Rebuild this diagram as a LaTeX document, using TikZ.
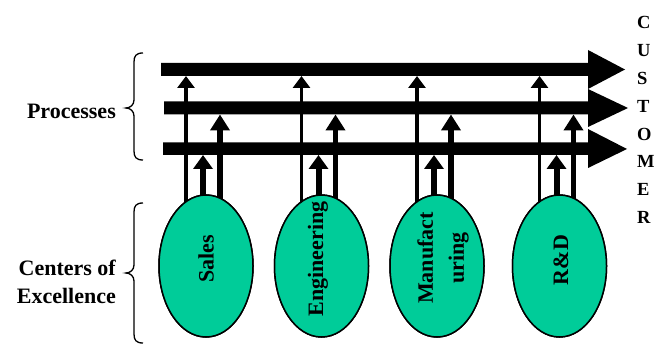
\documentclass[tikz,border=0pt]{standalone}
\usepackage{fontspec}
\setmainfont{Liberation Serif}
\usetikzlibrary{arrows.meta,shapes.geometric,calc}
\definecolor{cellgreen}{RGB}{0,204,153}
\begin{document}
\begin{tikzpicture}[x=1pt,y=-1pt,
  cell/.style={ellipse,draw=black,line width=1.5pt,fill=cellgreen,minimum width=94pt,minimum height=142pt,inner sep=0pt},
  celltext/.style={rotate=90,font=\bfseries\fontsize{22}{31}\selectfont,align=center,inner sep=0pt},
  lbl/.style={font=\bfseries\fontsize{22}{28}\selectfont,inner sep=0pt},
  upA/.style={line width=3.5pt,-{Triangle[width=17pt,length=12pt]}},
  upB/.style={line width=6pt,-{Triangle[width=19pt,length=14pt]}},
  upC/.style={line width=5.5pt,-{Triangle[width=19pt,length=16pt]}},
  barshape/.style={fill=black},
  bracepath/.style={line width=1.3pt}]
\useasboundingbox (0,0) rectangle (655,344);
\clip (0,0) rectangle (655,344);

% bar bottoms
\coordinate (bar1) at (0,76);
\coordinate (bar2) at (0,114.5);
\coordinate (bar3) at (0,155);

% centers of excellence
\node[cell] (sales) at (206,266) {};
\node[cell] (eng) at (321.5,266) {};
\node[cell] (manu) at (437,266) {};
\node[cell] (rd) at (559.5,266) {};

% vertical arrows
\foreach \n in {sales,eng,manu,rd}{
  \coordinate (\n-a) at ($(\n.center)+(-20,-50)$);
  \coordinate (\n-b) at ($(\n.center)+(-3,-50)$);
  \coordinate (\n-c) at ($(\n.center)+(14,-50)$);
  \draw[upA] (\n-a) -- (\n-a |- bar1);
  \draw[upB] (\n-b) -- (\n-b |- bar3);
  \draw[upC] (\n-c) -- (\n-c |- bar2);
}

% redraw ellipses on top of arrow tails
\node[cell] (sales2) at (sales) {};
\node[cell] (eng2) at (eng) {};
\node[cell] (manu2) at (manu) {};
\node[cell] (rd2) at (rd) {};

\node[celltext] (salest) at (206,259) {Sales};
\node[celltext] (engt) at (318,259) {Engineering};
\node[celltext] (manut) at (443,258) {Manufact\\uring};
\node[celltext] (rdt) at (561,260) {R\&D};

% process bars
\fill[barshape] (161,63) -- (588,63) -- (588,50) -- (625,69.5) -- (588,89) -- (588,76) -- (161,76) -- cycle;
\fill[barshape] (164,101.5) -- (588,101.5) -- (588,89) -- (628,108) -- (588,127) -- (588,114.5) -- (164,114.5) -- cycle;
\fill[barshape] (163,142.5) -- (588,142.5) -- (588,129) -- (627,149) -- (588,168) -- (588,155) -- (163,155) -- cycle;

% labels
\node[lbl,anchor=east] (proc) at (116,111) {Processes};
\node[lbl,anchor=north east,align=right] (coe) at (116,259.5) {Centers of\\Excellence};
\node[font=\bfseries\fontsize{18.5}{27.9}\selectfont,align=left,anchor=north west,inner sep=0pt] (cust) at (637,16) {C\\U\\S\\T\\O\\M\\E\\R};

% braces
\draw[bracepath] (143,53) .. controls (136,53) and (134,56) .. (134,62) -- (134,100) .. controls (134,105) and (130,108) .. (126,108) .. controls (130,108) and (134,111) .. (134,116) -- (134,151) .. controls (134,157) and (136,160) .. (143,160);
\draw[bracepath] (143,203) .. controls (136,203) and (134,206) .. (134,212) -- (134,265) .. controls (134,270) and (130,273) .. (126,273) .. controls (130,273) and (134,276) .. (134,281) -- (134,334) .. controls (134,340) and (136,343) .. (143,343);
\end{tikzpicture}
\end{document}
